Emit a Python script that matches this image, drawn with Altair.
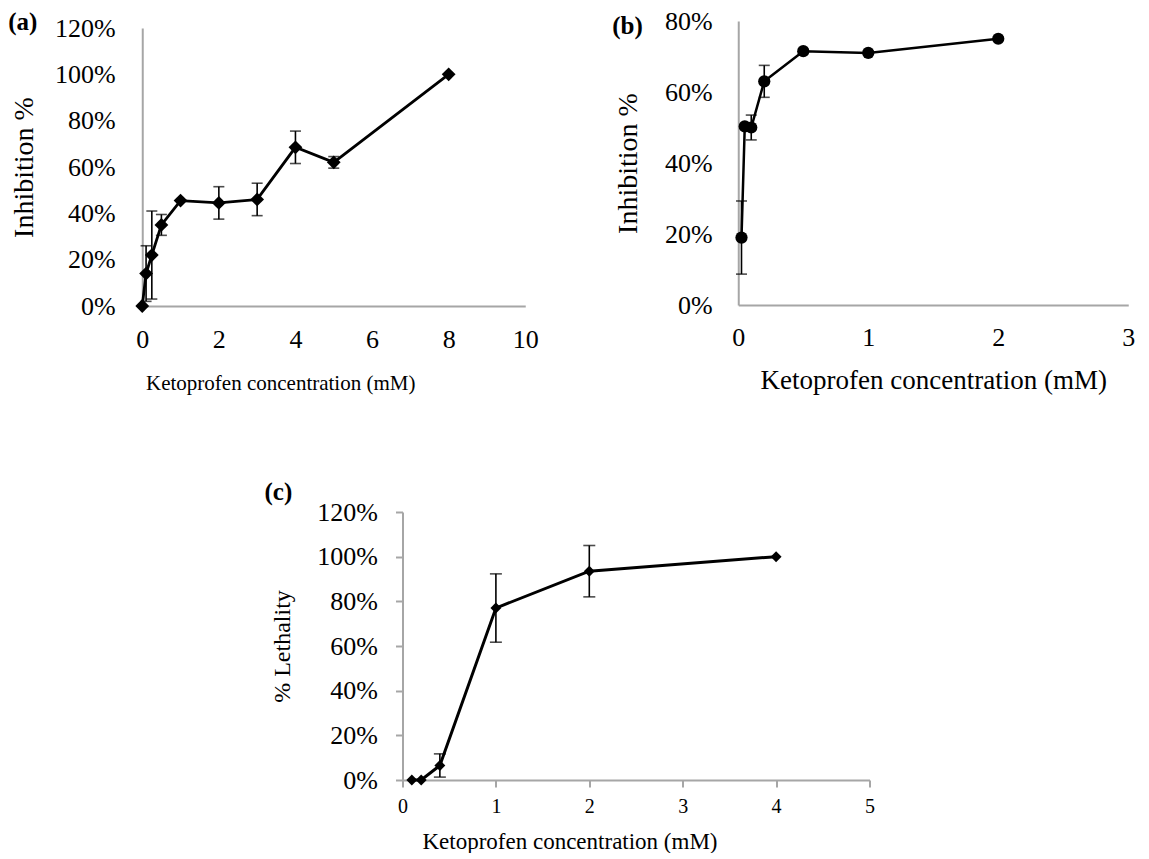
import altair as alt
import pandas as pd

# ---- data ----
a_x = [0, 0.1, 0.25, 0.5, 1, 2, 3, 4, 5, 8]
a_y = [0, 14, 22, 35, 45.5, 44.5, 46, 68.5, 62, 100]
a_err = [0, 12, 19, 4.5, 0, 7, 7, 7, 2.5, 0]

b_x = [0.025, 0.05, 0.1, 0.2, 0.5, 1, 2]
b_y = [19, 50.3, 50, 63, 71.5, 71, 75]
b_err = [10.3, 0, 3.5, 4.5, 0, 0, 0]

c_x = [0.1, 0.2, 0.4, 1, 2, 4]
c_y = [0, 0, 6.5, 77, 93.5, 100]
c_err = [0, 0, 5.2, 15.3, 11.5, 0]

a_xticks = [0, 2, 4, 6, 8, 10]
a_yticks = [0, 0.2, 0.4, 0.6, 0.8, 1.0, 1.2]
b_xticks = [0, 1, 2, 3]
b_yticks = [0, 0.2, 0.4, 0.6, 0.8]
c_xticks = [0, 1, 2, 3, 4, 5]
c_yticks = [0, 0.2, 0.4, 0.6, 0.8, 1.0, 1.2]

XTITLE = "Ketoprofen concentration (mM)"
FONT = "Liberation Serif"
GRAY = "#a6a6a6"


def panel(xs, ys, errs, xdom, xticks, ydom, yticks, width, height, yrange,
          shape, msize, lw, ytitle, tag, tag_x, tag_y, ticks,
          xlab_size, xlab_pad, xtitle_size, xtitle_pad, xtitle_x,
          ylab_size, ylab_pad, ytitle_size, ytitle_pad, cap):
    df = pd.DataFrame({"x": xs, "y": [v / 100 for v in ys]})
    edf = pd.DataFrame({
        "x": [x for x, e in zip(xs, errs) if e > 0],
        "lo": [(y - e) / 100 for y, e in zip(ys, errs) if e > 0],
        "hi": [(y + e) / 100 for y, e in zip(ys, errs) if e > 0],
    })
    tsize = 7 if ticks else 0
    common = dict(ticks=ticks, tickSize=tsize, tickColor=GRAY, tickWidth=2,
                  grid=False, labelFlush=False, labelFont=FONT,
                  titleFont=FONT, titleFontWeight="normal",
                  labelColor="black", titleColor="black", domainColor=GRAY,
                  domainWidth=2)
    xextra = {}
    if xtitle_x is not None:
        xextra = dict(titleX=xtitle_x, titleAlign="center")
    xax = alt.Axis(values=xticks, format="d", title=XTITLE,
                   labelFontSize=xlab_size, labelPadding=xlab_pad,
                   titleFontSize=xtitle_size, titlePadding=xtitle_pad,
                   **xextra, **common)
    yax = alt.Axis(values=yticks, format=".0%", title=ytitle,
                   labelFontSize=ylab_size, labelPadding=ylab_pad,
                   titleFontSize=ytitle_size, titlePadding=ytitle_pad,
                   **common)
    xs_ = alt.Scale(domain=xdom, nice=False, zero=False)
    if yrange is not None:
        ys_ = alt.Scale(domain=ydom, nice=False, zero=False, range=yrange)
    else:
        ys_ = alt.Scale(domain=ydom, nice=False, zero=False)
    base = alt.Chart(df)
    line = base.mark_line(color="black", strokeWidth=lw).encode(
        x=alt.X("x:Q", scale=xs_, axis=xax), y=alt.Y("y:Q", scale=ys_, axis=yax))
    pts = base.mark_point(shape=shape, filled=True, color="black", size=msize,
                          opacity=1).encode(x=alt.X("x:Q"), y=alt.Y("y:Q"))
    eb = alt.Chart(edf)
    rule = eb.mark_rule(color="black", strokeWidth=1.6).encode(
        x="x:Q", y="lo:Q", y2="hi:Q")
    cap_lo = eb.mark_tick(color="black", orient="horizontal", size=cap,
                          thickness=1.6).encode(x="x:Q", y="lo:Q")
    cap_hi = eb.mark_tick(color="black", orient="horizontal", size=cap,
                          thickness=1.6).encode(x="x:Q", y="hi:Q")
    label = alt.Chart(pd.DataFrame({"t": [tag]})).mark_text(
        font=FONT, fontSize=25, fontWeight="bold", align="left",
        baseline="top", color="black").encode(
        text="t:N", x=alt.value(tag_x), y=alt.value(tag_y))
    return alt.layer(line, rule, cap_lo, cap_hi, pts, label).properties(
        width=width, height=height)


pa = panel(a_x, a_y, a_err, [0, 10], a_xticks, [0, 1.2], a_yticks,
           383, 285, [285, 7], "diamond", 190, 2.8, "Inhibition %",
           "(a)", -134, -11, False,
           26, 20, 21, 20, 138,
           26, 27, 28, 16, 11)
pb = panel(b_x, b_y, b_err, [0, 3], b_xticks, [0, 0.8], b_yticks,
           390, 284, None, "circle", 150, 2.5, "Inhibition %",
           "(b)", -126, -7, False,
           26, 19, 27, 17, None,
           26, 26, 28, 22, 11)
pc = panel(c_x, c_y, c_err, [0, 5], c_xticks, [0, 1.2], c_yticks,
           467, 268, None, "diamond", 120, 3, "% Lethality",
           "(c)", -138, -32, True,
           20, 9, 23, 14, 167,
           26, 18, 24, 22, 12)

top = alt.hconcat(pa, pb, spacing=74)
chart = alt.vconcat(top, pc, spacing=87, center=True).properties(
    padding=0
).configure(font=FONT).configure_view(stroke=None)

chart.save("out.html", embed_options={"renderer": "svg", "actions": False})
